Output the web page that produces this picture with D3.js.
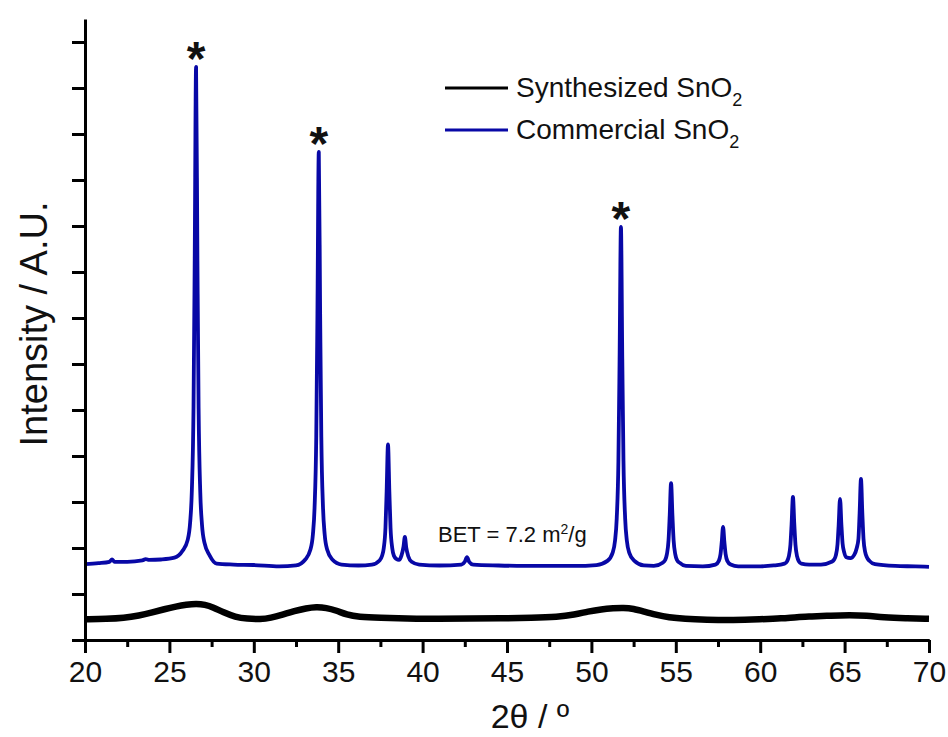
<!DOCTYPE html>
<html>
<head>
<meta charset="utf-8">
<script src="https://cdn.jsdelivr.net/npm/d3@7"></script>
<style>
  body { margin: 0; background: #fff; }
  svg text { font-family: "Liberation Sans", Arial, sans-serif; fill: #111; }
</style>
</head>
<body>
<div id="chart"></div>
<script>
// 2theta (deg) / intensity (a.u.)
var synthesized = [
  [20.0, 0.45], [21.3, 0.46], [22.3, 0.48], [23.2, 0.53], [24.0, 0.60], [24.7, 0.67],
  [25.4, 0.73], [26.0, 0.77], [26.6, 0.79], [27.1, 0.77], [27.6, 0.71], [28.2, 0.60],
  [28.9, 0.50], [29.6, 0.46], [30.4, 0.45], [31.0, 0.48], [31.7, 0.55], [32.4, 0.63],
  [33.1, 0.69], [33.7, 0.72], [34.3, 0.70], [34.9, 0.64], [35.5, 0.55], [36.2, 0.50],
  [37.5, 0.48], [39.0, 0.47], [41.0, 0.46], [42.8, 0.47], [44.6, 0.47], [46.5, 0.48],
  [48.0, 0.50], [49.0, 0.55], [49.8, 0.62], [50.6, 0.67], [51.3, 0.69], [51.9, 0.70],
  [52.5, 0.68], [53.1, 0.62], [53.8, 0.55], [54.6, 0.49], [55.5, 0.46], [56.8, 0.44],
  [58.4, 0.43], [60.0, 0.45], [61.3, 0.47], [62.2, 0.50], [63.0, 0.51], [64.2, 0.53],
  [65.3, 0.54], [66.3, 0.53], [67.3, 0.49], [68.6, 0.47], [70.0, 0.46]
];

var commercial = [
  [20.0, 1.65], [20.8, 1.67], [21.45, 1.70], [21.6, 1.75], [21.75, 1.70], [22.5, 1.70],
  [23.4, 1.73], [23.6, 1.76], [23.8, 1.74], [24.5, 1.75], [25.3, 1.79],
  // 26.6
  [25.78, 1.94], [26.08, 2.17], [26.23, 2.56], [26.33, 3.25], [26.43, 5.08], [26.50, 8.30],
  [26.58, 12.46],
  [26.66, 8.25], [26.73, 5.03], [26.83, 3.20], [26.93, 2.51], [27.08, 2.11], [27.38, 1.84],
  [27.8, 1.66], [28.8, 1.64], [30.0, 1.63], [31.5, 1.60], [32.5, 1.62],
  // 33.9
  [33.05, 1.75], [33.35, 1.96], [33.50, 2.29], [33.60, 2.88], [33.70, 4.41], [33.77, 7.10],
  [33.85, 10.61],
  [33.93, 7.10], [34.00, 4.41], [34.10, 2.88], [34.20, 2.29], [34.35, 1.96], [34.65, 1.75],
  [35.2, 1.64], [36.2, 1.62], [37.0, 1.64],
  // 38.0 and 39.0
  [37.45, 1.73], [37.60, 1.83], [37.70, 2.00], [37.80, 2.44], [37.87, 3.23],
  [37.95, 4.25],
  [38.03, 3.23], [38.10, 2.44], [38.20, 2.00], [38.30, 1.83], [38.45, 1.76],
  [38.60, 1.74], [38.75, 1.84], [38.87, 2.03],
  [38.95, 2.24],
  [39.03, 2.01], [39.15, 1.82], [39.35, 1.70], [39.8, 1.64],
  [41.0, 1.62],
  // 42.6
  [42.3, 1.64], [42.5, 1.70], [42.63, 1.80], [42.76, 1.70], [43.0, 1.64],
  [44.5, 1.62], [46.0, 1.61], [47.5, 1.61], [49.0, 1.61], [50.3, 1.63],
  // 51.8
  [50.95, 1.72], [51.25, 1.89], [51.40, 2.16], [51.50, 2.64], [51.60, 3.89], [51.67, 6.11],
  [51.75, 8.98],
  [51.83, 6.11], [51.90, 3.89], [52.00, 2.64], [52.10, 2.16], [52.25, 1.89], [52.55, 1.72],
  [53.1, 1.62], [53.7, 1.61],
  // 54.7
  [54.22, 1.68], [54.37, 1.74], [54.47, 1.86], [54.57, 2.17], [54.64, 2.71],
  [54.72, 3.41],
  [54.80, 2.71], [54.87, 2.17], [54.97, 1.86], [55.07, 1.74], [55.22, 1.68],
  [55.6, 1.61], [56.6, 1.60],
  // 57.8
  [57.35, 1.64], [57.55, 1.72], [57.65, 1.87], [57.72, 2.12],
  [57.80, 2.46],
  [57.88, 2.12], [57.95, 1.87], [58.05, 1.72], [58.25, 1.64],
  [58.7, 1.60], [59.8, 1.60], [60.8, 1.62],
  // 61.9
  [61.44, 1.66], [61.59, 1.71], [61.69, 1.81], [61.79, 2.07], [61.86, 2.52],
  [61.94, 3.11],
  [62.02, 2.52], [62.09, 2.07], [62.19, 1.81], [62.29, 1.71], [62.44, 1.66],
  [62.9, 1.64], [63.6, 1.64],
  // 64.7 and 66.0
  [64.23, 1.70], [64.38, 1.75], [64.48, 1.84], [64.58, 2.08], [64.65, 2.51],
  [64.73, 3.07],
  [64.81, 2.51], [64.88, 2.10], [64.98, 1.90], [65.10, 1.80], [65.35, 1.78],
  [65.57, 1.85], [65.72, 2.00], [65.82, 2.20], [65.89, 2.76],
  [65.97, 3.50],
  [66.05, 2.76], [66.12, 2.20], [66.22, 1.91], [66.32, 1.80], [66.47, 1.72],
  [66.8, 1.65], [68.0, 1.61], [69.2, 1.60], [70.0, 1.59]
];

// peaks marked with *
var starred = [[26.58, 12.46], [33.85, 10.61], [51.75, 8.98]];

var xMajor = [20, 25, 30, 35, 40, 45, 50, 55, 60, 65, 70];
var xMinor = [22.5, 27.5, 32.5, 37.5, 42.5, 47.5, 52.5, 57.5, 62.5, 67.5];
var yTicks = [0, 1, 2, 3, 4, 5, 6, 7, 8, 9, 10, 11, 12, 13];

var seriesNames = ["Synthesized SnO", "Commercial SnO"];
var seriesColors = ["#000000", "#0808a6"];

var margin = { top: 19, right: 19, bottom: 97, left: 85 };
var width = 948 - margin.left - margin.right;
var height = 737 - margin.top - margin.bottom;

var svg = d3
  .select("#chart")
  .append("svg")
  .attr("width", 948)
  .attr("height", 737)
  .append("g")
  .attr("transform", "translate(" + margin.left + "," + margin.top + ")");

var x = d3.scaleLinear().domain([20, 70]).range([0, 844]);
var y = d3.scaleLinear().domain([0, 13.5]).range([height, 0]);

var line = d3
  .line()
  .x(function (d) { return x(d[0]); })
  .y(function (d) { return y(d[1]); })
  .curve(d3.curveMonotoneX);

// data lines
svg
  .append("path")
  .datum(synthesized)
  .attr("fill", "none")
  .attr("stroke", seriesColors[0])
  .attr("stroke-width", 6.5)
  .attr("stroke-linejoin", "round")
  .attr("d", line.curve(d3.curveBasis));

svg
  .append("path")
  .datum(commercial)
  .attr("fill", "none")
  .attr("stroke", seriesColors[1])
  .attr("stroke-width", 3.8)
  .attr("stroke-linejoin", "round")
  .attr("d", line.curve(d3.curveMonotoneX));

// axes
var xMinorAxis = d3.axisBottom(x).tickValues(xMinor).tickSize(7).tickSizeOuter(0).tickFormat("");
var xAxis = d3.axisBottom(x).tickValues(xMajor).tickSize(13).tickSizeOuter(0).tickPadding(8);
var yAxis = d3.axisLeft(y).tickValues(yTicks).tickSize(13).tickSizeOuter(0).tickFormat("");

svg.append("g").attr("class", "axis").attr("transform", "translate(0," + height + ")").call(xMinorAxis);
var gx = svg.append("g").attr("class", "axis").attr("transform", "translate(0," + height + ")").call(xAxis);
gx.selectAll("text").style("font-size", "30px").attr("fill", "#111");

svg.append("g").attr("class", "axis").call(yAxis);

svg.selectAll(".axis path, .axis line").attr("stroke", "#000").attr("stroke-width", 3);

// axis titles
svg
  .append("text")
  .attr("x", 530 - margin.left)
  .attr("y", height + 88)
  .style("text-anchor", "middle")
  .style("font-size", "34px")
  .text("2θ / º");

svg
  .append("text")
  .attr("transform", "rotate(-90)")
  .attr("x", -(324 - margin.top))
  .attr("y", 47 - margin.left)
  .style("text-anchor", "middle")
  .style("font-size", "38px")
  .text("Intensity / A.U.");

// asterisks over the main peaks
svg
  .selectAll(".star")
  .data(starred)
  .enter()
  .append("text")
  .attr("class", "star")
  .attr("x", function (d) { return x(d[0]); })
  .attr("y", function (d) { return y(d[1]) + 8; })
  .style("text-anchor", "middle")
  .style("font-size", "48px")
  .style("font-weight", "bold")
  .text("*");

// legend
var legend = svg
  .selectAll(".legend")
  .data(seriesNames)
  .enter()
  .append("g")
  .attr("class", "legend")
  .attr("transform", function (d, i) {
    return "translate(" + (445 - margin.left) + "," + (88 - margin.top + i * 42) + ")";
  });

legend
  .append("line")
  .attr("x1", 0)
  .attr("x2", 63)
  .attr("stroke", function (d, i) { return seriesColors[i]; })
  .attr("stroke-width", 3);

var lt = legend
  .append("text")
  .attr("x", 71)
  .attr("y", 9)
  .style("font-size", "28px")
  .text(function (d) { return d; });
lt.append("tspan").attr("dy", 9).style("font-size", "18px").text("2");

// BET note
var bet = svg
  .append("text")
  .attr("x", 438 - margin.left)
  .attr("y", 542 - margin.top)
  .style("font-size", "22px")
  .text("BET = 7.2 m");
bet.append("tspan").attr("dy", -8).style("font-size", "14px").text("2");
bet.append("tspan").attr("dy", 8).text("/g");
</script>
</body>
</html>
